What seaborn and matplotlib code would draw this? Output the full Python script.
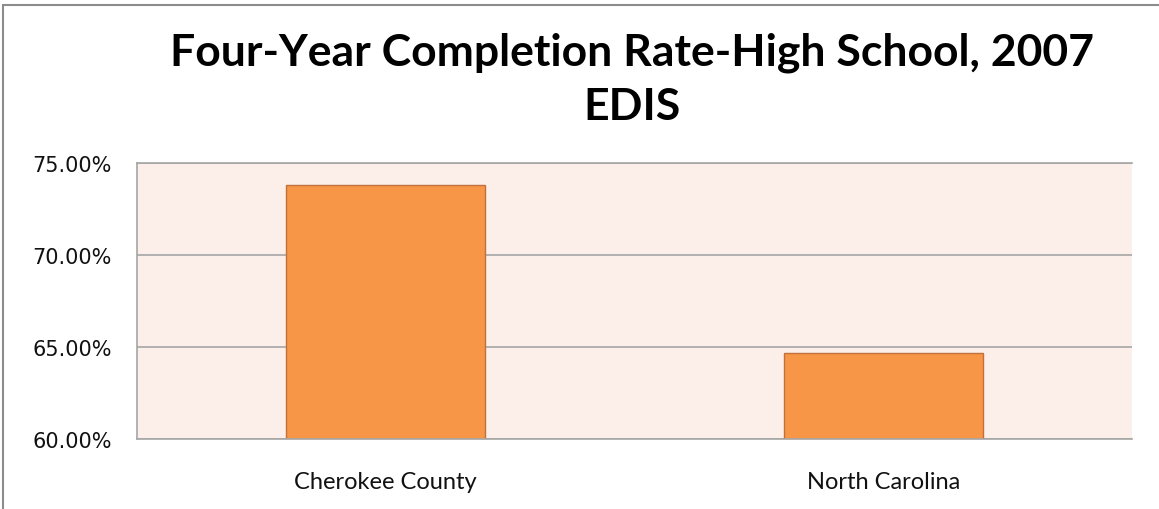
import matplotlib
matplotlib.use("Agg")
import matplotlib.pyplot as plt
import seaborn as sns
import pandas as pd
from matplotlib.ticker import FuncFormatter, MultipleLocator
from matplotlib.patches import Rectangle

regions = ["Cherokee County", "North Carolina"]
rates = [73.83, 64.67]
title = "Four-Year Completion Rate-High School, 2007\nEDIS"

df = pd.DataFrame({"Region": regions, "Rate": rates})

sns.set_style("white")
fig = plt.figure(figsize=(11.59, 5.10), dpi=100)
ax = fig.add_axes([137 / 1159, 1 - 440 / 510, (1132 - 137) / 1159, (440 - 164) / 510])

sns.barplot(x="Region", y="Rate", data=df, ax=ax, color="#F79646",
            width=0.4, edgecolor="#C0713A", linewidth=1, saturation=1)

ax.set_facecolor("#FCEEE9")
ax.set_ylim(60, 75)
ax.yaxis.set_major_locator(MultipleLocator(5))
ax.yaxis.set_major_formatter(FuncFormatter(lambda v, p: f"{v:.2f}%"))
ax.grid(axis="y", color="#A6A6A6", linewidth=1.2)
ax.set_axisbelow(True)
for side in ["top", "right", "left", "bottom"]:
    ax.spines[side].set_color("#A6A6A6")
    ax.spines[side].set_linewidth(1.2)
ax.spines["right"].set_visible(False)
ax.set_xlabel("")
ax.set_ylabel("")
ax.tick_params(axis="y", length=0, pad=18, labelsize=15, colors="#111111")
ax.tick_params(axis="x", length=0, pad=23, labelsize=17, colors="#111111")
for lbl in ax.get_xticklabels():
    lbl.set_fontfamily("Lato")

fig.text(0.545, 0.843, title, ha="center", va="center", fontsize=32,
         fontweight="bold", family="Lato", linespacing=1.42, color="black")

# outer chart frame
fig.patches.append(Rectangle((3 / 1159, -0.1), 1.2, 1 - 6 / 510 + 0.1,
                             transform=fig.transFigure, fill=False,
                             edgecolor="#8C8C8C", linewidth=1.5))

fig.savefig("out.png", dpi=100)
